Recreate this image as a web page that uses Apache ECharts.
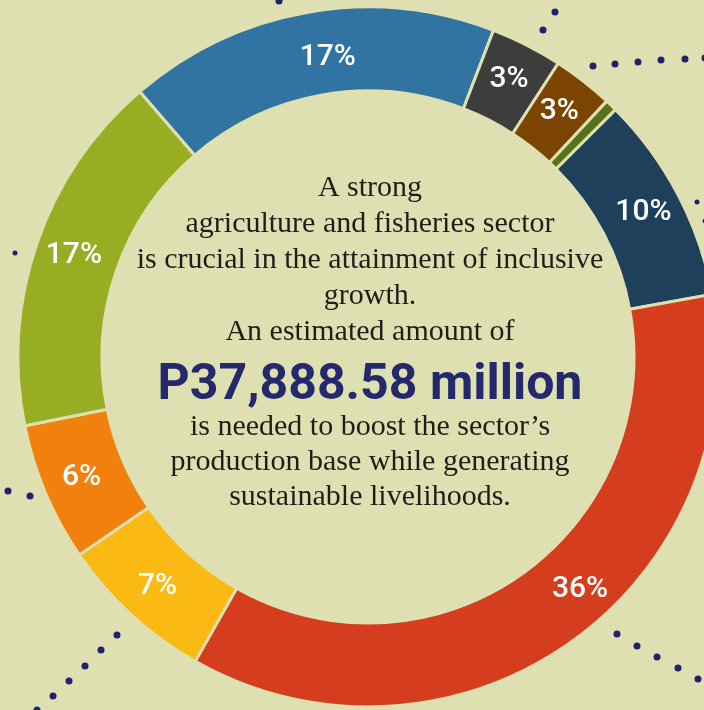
<!DOCTYPE html>
<html>
<head>
<meta charset="utf-8">
<title>Agriculture and fisheries sector</title>
<script src="https://cdn.jsdelivr.net/npm/echarts@6/dist/echarts.min.js"></script>
<style>
  html, body { margin: 0; padding: 0; background: #dee0b1; }
  #chart_con { width: 704px; height: 710px; }
</style>
</head>
<body>
<div id="chart_con"></div>
<script>
// segments clockwise, starting at the upper-left (blue)
const sectors = ["Sector 1", "Sector 2", "Sector 3", "Sector 4", "Sector 5", "Sector 6", "Sector 7", "Sector 8", "Sector 9"];
const shares = [17.1, 3.3, 2.8, 0.55, 9.6, 36.0, 7.2, 6.4, 16.8];
const colors = ["#3174a1", "#3d3d3c", "#7b4401", "#56731c", "#1f405a", "#d53d1f", "#fbb913", "#f1800d", "#97ad22"];

const textLines = [
  "A strong",
  "agriculture and fisheries sector",
  "is crucial in the attainment of inclusive",
  "growth.",
  "An estimated amount of"
];
const amountText = "P37,888.58 million";
const textLines2 = [
  "is needed to boost the sector\u2019s",
  "production base while generating",
  "sustainable livelihoods."
];

const bg = "#dee0b1";
const navy = "#1d2468";

let chart = echarts.init(document.getElementById("chart_con"));

let pieData = [];
for (let i = 0; i < shares.length; i++) {
  let item = {
    name: sectors[i],
    value: shares[i],
    itemStyle: { color: colors[i] }
  };
  // a couple of labels sit off the slice middle in the original
  if (i === 0) {
    item.label = { offset: [13, 7] };
  }
  if (i === 5) {
    item.label = { offset: [32, -21] };
  }
  pieData.push(item);
}

let graphics = [];
const serifFont = "\"Liberation Serif\", \"Times New Roman\", serif";
// baselines of the serif lines
let y = 198;
textLines.forEach(function (t) {
  graphics.push({
    type: "text",
    x: 370,
    y: y - 10,
    style: {
      text: t,
      fill: "#221d1a",
      font: "30px " + serifFont,
      align: "center",
      verticalAlign: "middle"
    }
  });
  y += 36;
});
graphics.push({
  type: "text",
  x: 370,
  y: 386,
  style: {
    text: amountText,
    fill: "#23296c",
    font: "bold 50px Roboto, sans-serif",
    align: "center",
    verticalAlign: "middle"
  }
});
y = 437;
textLines2.forEach(function (t) {
  graphics.push({
    type: "text",
    x: 370,
    y: y - 10,
    style: {
      text: t,
      fill: "#221d1a",
      font: "30px " + serifFont,
      align: "center",
      verticalAlign: "middle"
    }
  });
  y += 35;
});

// decorative dotted leader lines around the ring
const dots = [
  [279, 1, 3.5], [543, 30, 3.5], [555, 12, 3.5],
  [593, 66, 3.5], [615, 64, 3.5], [638, 62, 3.5], [661, 60, 3.5], [685, 59, 3.5], [705, 58, 3.5],
  [697, 202, 2.5], [705, 221, 2.5],
  [15, 253, 2.5],
  [8, 491, 3.5], [30, 496, 3.5],
  [117, 635, 3.5], [101, 650, 3.5], [85, 666, 3.5], [69, 681, 3.5], [53, 696, 3.5], [37, 710, 3.5],
  [617, 634, 3.5], [637, 646, 3.5], [657, 657, 3.5], [678, 668, 3.5], [698, 679, 3.5]
];
dots.forEach(function (d) {
  graphics.push({
    type: "circle",
    shape: { cx: d[0], cy: d[1], r: d[2] },
    style: { fill: navy }
  });
});

const option = {
  backgroundColor: bg,
  animation: false,
  graphic: graphics,
  series: [{
    type: "pie",
    radius: [266, 350],
    center: [368, 357],
    startAngle: 130.7,
    clockwise: true,
    avoidLabelOverlap: false,
    silent: true,
    itemStyle: {
      borderColor: bg,
      borderWidth: 3
    },
    label: {
      show: true,
      position: "inside",
      color: "#ffffff",
      fontFamily: "Roboto, sans-serif",
      fontSize: 30,
      fontWeight: 500,
      formatter: function (p) {
        return p.value < 1 ? "" : Math.round(p.value) + "%";
      }
    },
    labelLine: { show: false },
    data: pieData
  }]
};

chart.setOption(option);
</script>
</body>
</html>
